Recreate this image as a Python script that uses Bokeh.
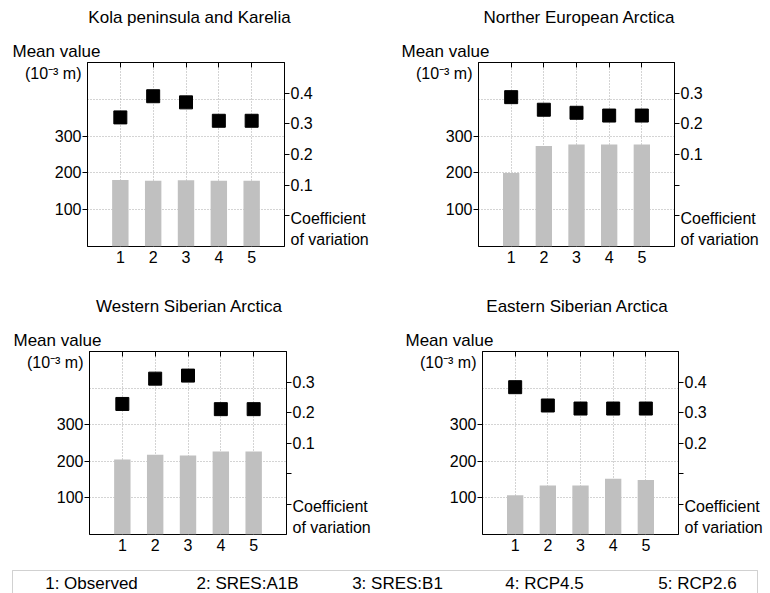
from bokeh.plotting import figure
from bokeh.models import Range1d, LinearAxis, FixedTicker, Label, BoxAnnotation, Title
from bokeh.layouts import column, row
from bokeh.embed import file_html
from bokeh.resources import INLINE

# ---------------- data ----------------
categories = [1, 2, 3, 4, 5]
legend_labels = ["1: Observed", "2: SRES:A1B", "3: SRES:B1", "4: RCP4.5", "5: RCP2.6"]
titles = ["Kola peninsula and Karelia", "Norther European Arctica",
          "Western Siberian Arctica", "Eastern Siberian Arctica"]

kola_mean = [181, 179, 180, 179, 179]
kola_cv = [0.321, 0.390, 0.370, 0.310, 0.310]
north_mean = [200, 273, 277, 277, 277]
north_cv = [0.287, 0.246, 0.236, 0.227, 0.227]
west_mean = [205, 218, 216, 227, 227]
west_cv = [0.228, 0.311, 0.321, 0.211, 0.211]
east_mean = [107, 134, 134, 152, 149]
east_cv = [0.383, 0.323, 0.313, 0.313, 0.313]

x_range = (0, 6)
mean_range = (0, 500)
mean_ticks = [100, 200, 300]
mean_extra_ticks = [400]
cv_ranges = [(-0.1, 0.5), (-0.2, 0.4), (-0.2, 0.4), (-0.1, 0.5)]
cv_ticks = [[0.1, 0.2, 0.3, 0.4], [0.1, 0.2, 0.3], [0.1, 0.2, 0.3], [0.2, 0.3, 0.4]]
cv_extra_ticks = [[0.0], [-0.1, 0.0], [-0.1, 0.0], [0.0, 0.1]]

mean_axis_name = "Mean value"
mean_unit = "(10\u207b\u00b3 m)"
cv_axis_name = "Coefficient\nof variation"

# ---------------- layout / style ----------------
FONT = "Liberation Sans"
TXT = "#000000"
BAR = "#c0c0c0"
GRID = "#a8a8a8"
PAGE_W = 770
STRIP_H = 30

# (border_left, frame_w, border_right, border_top, frame_h, border_bottom)
geos = [
    (87, 197, 101, 32, 184, 44),
    (93, 196, 96, 32, 184, 44),
    (89, 197, 99, 30, 184, 26),
    (97, 196, 92, 31, 185, 24),
]
# horizontal offset of "Mean value" from frame left
mean_offsets = [-75, -77, -76, -77]
# title centres (x in page px, y in px above strip bottom)
title_pos = [[(189, 13), (579, 13)], [(189, 14), (577, 14)]]
UNIT_AT = 0.94        # fraction of mean axis height where the unit text sits
COEF_PX = 17.5        # px above frame bottom for the cv axis name


def make_panel(i, means, cvs):
    bl, fw, br, bt, fh, bb = geos[i]
    p = figure(width=bl + fw + br, height=bt + fh + bb, title=None,
               x_range=Range1d(*x_range), y_range=Range1d(*mean_range),
               output_backend="svg", toolbar_location=None,
               min_border_left=bl, min_border_right=br,
               min_border_top=bt, min_border_bottom=bb)
    p.background_fill_color = "white"
    p.border_fill_color = "white"
    p.outline_line_color = "black"
    p.outline_line_width = 1

    # grids
    p.xgrid.ticker = FixedTicker(ticks=categories)
    p.ygrid.ticker = FixedTicker(ticks=mean_ticks + mean_extra_ticks)
    for g in (p.xgrid[0], p.ygrid[0]):
        g.grid_line_color = GRID
        g.grid_line_dash = "1 2"
        g.grid_line_width = 1

    # bottom axis
    xa = p.xaxis[0]
    xa.ticker = FixedTicker(ticks=categories)
    xa.major_tick_in = 0
    xa.major_tick_out = 0
    xa.minor_tick_in = 0
    xa.minor_tick_out = 0
    xa.axis_line_color = None
    xa.major_label_standoff = 4
    xa.major_label_text_font = FONT
    xa.major_label_text_font_size = "16px"
    xa.major_label_text_color = TXT

    # left axis (unit text placed as an extra tick label near the top)
    unit_pos = round(mean_range[0] + UNIT_AT * (mean_range[1] - mean_range[0]), 3)
    ya = p.yaxis[0]
    ya.ticker = FixedTicker(ticks=mean_ticks + [unit_pos], minor_ticks=mean_ticks)
    ya.major_label_overrides = {unit_pos: mean_unit}
    ya.major_tick_in = 0
    ya.major_tick_out = 0
    ya.minor_tick_in = 0
    ya.minor_tick_out = 5
    ya.minor_tick_line_color = "black"
    ya.axis_line_color = "black"
    ya.major_label_standoff = 1
    ya.major_label_text_font = FONT
    ya.major_label_text_font_size = "16px"
    ya.major_label_text_color = TXT

    # top axis: inward ticks only
    ta = LinearAxis(ticker=FixedTicker(ticks=categories))
    ta.major_tick_in = 5
    ta.major_tick_out = 0
    ta.minor_tick_in = 0
    ta.minor_tick_out = 0
    ta.major_label_text_color = None
    ta.major_label_text_font_size = "0px"
    ta.major_label_standoff = 0
    ta.axis_line_color = "black"
    p.add_layout(ta, "above")

    # right axis: coefficient of variation
    lo, hi = cv_ranges[i]
    coef_pos = round(lo + COEF_PX / fh * (hi - lo), 4)
    p.extra_y_ranges = {"cv": Range1d(lo, hi)}
    ra = LinearAxis(y_range_name="cv",
                    ticker=FixedTicker(ticks=cv_ticks[i] + [coef_pos],
                                       minor_ticks=cv_ticks[i] + cv_extra_ticks[i]))
    ra.major_label_overrides = {coef_pos: cv_axis_name}
    ra.major_tick_in = 0
    ra.major_tick_out = 0
    ra.minor_tick_in = 0
    ra.minor_tick_out = 5
    ra.minor_tick_line_color = "black"
    ra.axis_line_color = "black"
    ra.major_label_standoff = 1
    ra.major_label_text_font = FONT
    ra.major_label_text_font_size = "16px"
    ra.major_label_text_color = TXT
    p.add_layout(ra, "right")

    # marks
    p.vbar(x=categories, top=means, bottom=0, width=0.5,
           fill_color=BAR, line_color=None)
    p.scatter(x=categories, y=cvs, marker="square", size=13,
              fill_color="black", line_color="black", y_range_name="cv")

    # axis name above the frame
    t_mean = Title(text=mean_axis_name, align="left", offset=mean_offsets[i], standoff=4,
                   text_font=FONT, text_font_size="17px", text_font_style="normal",
                   text_color=TXT)
    p.add_layout(t_mean, "above")
    return p


def blank_strip(h):
    s = figure(width=PAGE_W, height=h, x_range=Range1d(0, PAGE_W), y_range=Range1d(0, h),
               output_backend="svg", toolbar_location=None, title=None,
               min_border_left=0, min_border_right=0, min_border_top=0, min_border_bottom=0)
    s.axis.visible = False
    s.grid.visible = False
    s.outline_line_color = None
    s.border_fill_color = "white"
    s.background_fill_color = "white"
    return s


def title_strip(r):
    s = blank_strip(STRIP_H)
    for (tx, ty), t in zip(title_pos[r], titles[2 * r:2 * r + 2]):
        s.add_layout(Label(x=tx, y=ty, text=t, text_font=FONT, text_font_size="17px",
                           text_color=TXT, text_align="center", text_baseline="middle"))
    return s


p1 = make_panel(0, kola_mean, kola_cv)
p2 = make_panel(1, north_mean, north_cv)
p3 = make_panel(2, west_mean, west_cv)
p4 = make_panel(3, east_mean, east_cv)

# legend strip
leg = blank_strip(33)
leg.add_layout(BoxAnnotation(left=12, right=757, top=23, bottom=-10,
                             fill_color=None, fill_alpha=0,
                             line_color="#666666", line_width=1))
legend_centers = [91, 247, 397, 544, 697]
for cx, t in zip(legend_centers, legend_labels):
    leg.add_layout(Label(x=cx, y=10, text=t, text_font=FONT, text_font_size="17px",
                         text_color=TXT, text_align="center", text_baseline="middle"))

layout = column(title_strip(0), row(p1, p2), title_strip(1), row(p3, p4), leg)

open("out.html", "w").write(file_html(layout, INLINE))
